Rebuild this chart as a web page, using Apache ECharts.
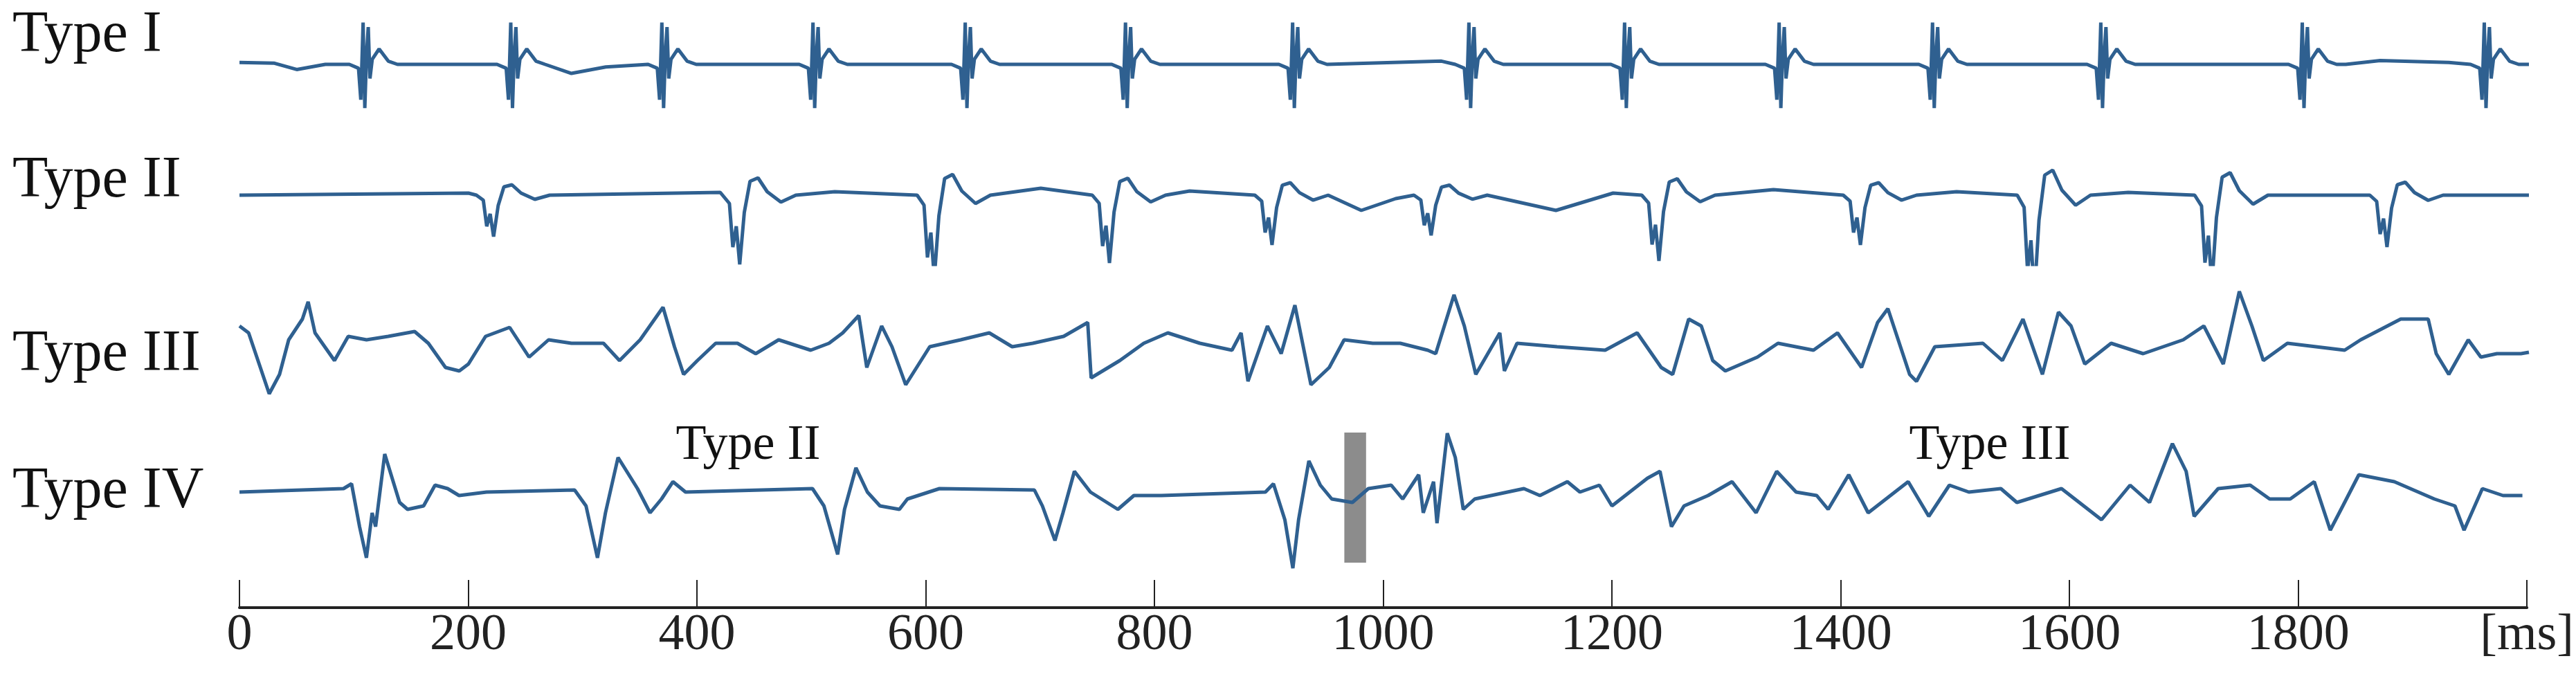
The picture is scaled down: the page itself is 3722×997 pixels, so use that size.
<!DOCTYPE html>
<html>
<head>
<meta charset="utf-8">
<script src="https://cdn.jsdelivr.net/npm/echarts@6/dist/echarts.min.js"></script>
<style>html,body{margin:0;padding:0;background:#fff}#chart{width:3722px;height:997px}</style>
</head>
<body>
<div id="chart"></div>
<script>
// x tick values (ms)
const xTicks = [0, 200, 400, 600, 800, 1000, 1200, 1400, 1600, 1800, 2000];
const rowNames = ['Type I', 'Type II', 'Type III', 'Type IV'];

// Type I: beat onset times and beat shape (offset ms, amplitude)
const beatsI = [108, 237, 369, 501, 634, 774, 920, 1074, 1210, 1345, 1479, 1626, 1802, 1961];
const beatShapeI = [[-12, 0], [-4, -6], [-2, -55], [0, 65], [1.5, -68], [3, 15], [4.5, 58], [6, -22], [8, 8], [14, 24], [22, 5], [30, 0]];
const wanderI = [[0, 3], [30, 2], [50, -8], [75, 0], [260, 0], [290, -14], [320, -4], [370, 0], [700, 0], [1050, 5], [1100, 0], [1840, 0], [1870, 6], [1930, 3], [2000, 0]];

// Type II: dip times, dip depths and dip shape
const beatsII = [213, 428, 598, 751, 893, 1032, 1231, 1407, 1559, 1714, 1867];
const depthII = [60, 100, 120, 98, 72, 58, 95, 72, 145, 130, 75];
const beatShapeII = [[-6, 0], [0, -0.12], [3, -0.75], [6, -0.45], [9, -1], [13, -0.25], [18, 0.2], [25, 0.25], [33, 0.05], [45, -0.1], [58, 0]];
const wanderII = [[0, 0], [200, 3], [420, 4], [520, 5], [640, 8], [700, 10], [830, 6], [980, -22], [1010, -5], [1150, -22], [1200, 3], [1340, 8], [1500, 5], [1650, 4], [2000, 0]];

// Type III: readings (ms, amplitude)
const seriesIII = [[0, 30], [8, 20], [26, -68], [35, -40], [43, 10], [55, 40], [60, 65], [66, 20], [83, -20], [95, 15], [111, 10], [130, 15], [153, 22], [165, 5],
  [180, -30], [192, -35], [200, -25], [215, 15], [236, 28], [253, -15], [270, 10], [290, 5], [318, 5], [332, -20], [350, 10], [370, 57], [380, 0], [388, -40],
  [400, -20], [416, 5], [435, 5], [451, -10], [471, 10], [499, -5], [515, 5], [527, 20], [541, 45], [548, -30], [561, 30], [570, 0], [582, -55], [603, 0],
  [630, 10], [655, 20], [675, 0], [693, 5], [720, 15], [741, 35], [744, -45], [769, -20], [790, 5], [811, 20], [839, 5], [867, -5], [875, 20], [881, -50],
  [898, 30], [910, -10], [922, 60], [936, -55], [952, -30], [965, 10], [990, 5], [1014, 5], [1038, -5], [1045, -10], [1061, 75], [1070, 30], [1080, -40],
  [1101, 20], [1105, -35], [1116, 5], [1151, 0], [1193, -5], [1221, 20], [1242, -30], [1252, -40], [1266, 40], [1277, 30], [1287, -20], [1298, -35],
  [1326, -15], [1344, 5], [1375, -5], [1396, 20], [1417, -30], [1431, 35], [1440, 55], [1459, -40], [1465, -50], [1481, 0], [1523, 5], [1540, -20],
  [1558, 40], [1575, -40], [1589, 50], [1600, 30], [1612, -25], [1635, 5], [1663, -10], [1698, 10], [1716, 30], [1733, -25], [1747, 80], [1758, 30],
  [1768, -20], [1789, 5], [1839, -5], [1853, 10], [1888, 40], [1912, 40], [1919, -10], [1930, -40], [1947, 10], [1958, -15], [1972, -10], [1993, -10], [2000, -8]];

// Type IV: readings (ms, amplitude)
const seriesIV = [[0, 0], [91, 5], [98, 12], [105, -50], [111, -95], [116, -30], [119, -50], [127, 55], [140, -15], [147, -25], [161, -20], [171, 10],
  [182, 5], [192, -5], [216, 0], [293, 3], [303, -20], [313, -95], [320, -30], [331, 50], [348, 5], [359, -30], [369, -10], [379, 15], [390, 0],
  [501, 5], [511, -20], [523, -90], [529, -25], [539, 35], [549, 0], [560, -20], [577, -25], [584, -10], [612, 5], [695, 3], [702, -20], [713, -70],
  [720, -30], [730, 30], [744, 0], [768, -25], [782, -5], [806, -5], [897, 0], [904, 12], [914, -40], [921, -110], [926, -40], [935, 45], [945, 10],
  [955, -10], [973, -15], [987, 5], [1007, 10], [1017, -10], [1031, 25], [1035, -30], [1044, 15], [1047, -45], [1056, 85], [1063, 50], [1070, -25],
  [1080, -10], [1123, 5], [1137, -5], [1161, 15], [1172, 0], [1189, 10], [1200, -20], [1231, 20], [1242, 30], [1252, -50], [1263, -20], [1284, -5],
  [1305, 15], [1326, -30], [1344, 30], [1361, 0], [1379, -5], [1389, -25], [1407, 25], [1424, -30], [1459, 15], [1477, -35], [1495, 10], [1512, 0],
  [1540, 5], [1554, -15], [1593, 5], [1628, -40], [1653, 10], [1670, -15], [1690, 70], [1702, 30], [1709, -35], [1730, 5], [1758, 10], [1775, -10],
  [1793, -10], [1814, 15], [1828, -55], [1839, -20], [1853, 25], [1884, 15], [1919, -10], [1937, -20], [1945, -55], [1961, 5], [1979, -5], [1996, -5]];

// grey separator bar (ms range, amplitude range)
const barMs = [966, 985];
const barAmp = [-102, 86];
const annotations = [{ text: 'Type II', x: 1081 }, { text: 'Type III', x: 2875 }];

function addBeats(wander, beats, shape, scale) {
  let pts = wander.map(p => p.slice());
  beats.forEach((t0, i) => {
    let s = scale ? scale[i] : 1;
    pts = pts.filter(p => p[0] < t0 + shape[0][0] || p[0] > t0 + shape[shape.length - 1][0]);
    shape.forEach(p => pts.push([t0 + p[0], p[1] * s]));
  });
  return pts.sort((a, b) => a[0] - b[0]);
}

const dataI = addBeats(wanderI, beatsI, beatShapeI);
const dataII = addBeats(wanderII, beatsII, beatShapeII, depthII);
const allData = [dataI, dataII, seriesIII, seriesIV];

const baselines = [86, 282, 501, 711];
const labelCentres = [52, 262, 513, 711];
const font = 'Liberation Serif';
const grids = baselines.map((b, i) => i < 3
  ? { left: 346, right: 68, top: b - 100, height: 200 }
  : { left: 346, right: 68, top: b - 100, height: 878 - (b - 100) });

const chart = echarts.init(document.getElementById('chart'), null, { renderer: 'canvas' });
chart.setOption({
  animation: false,
  grid: grids,
  xAxis: grids.map((g, i) => ({
    gridIndex: i, type: 'value', min: 0, max: 2000, interval: 200,
    show: i === 3,
    axisLine: { show: true, onZero: false, lineStyle: { color: '#222', width: 4 } },
    axisTick: { show: true, inside: true, length: 40, lineStyle: { color: '#222', width: 2 } },
    axisLabel: {
      show: true, margin: 4, fontSize: 74, fontFamily: font, color: '#222',
      formatter: v => v === 2000 ? '[ms]' : String(v)
    },
    splitLine: { show: false }
  })),
  yAxis: grids.map((g, i) => ({
    gridIndex: i, type: 'value', show: false,
    min: i < 3 ? -100 : -167, max: 100
  })),
  graphic: rowNames.map((n, i) => ({
    type: 'text', x: 18, y: labelCentres[i],
    style: { text: n, fontSize: 84, fontFamily: font, fill: '#111', verticalAlign: 'middle' }
  })).concat(annotations.map(a => ({
    type: 'text', x: a.x, y: 644,
    style: { text: a.text, fontSize: 72, fontFamily: font, fill: '#111', align: 'center', verticalAlign: 'middle' }
  }))),
  series: allData.map((d, i) => ({
    type: 'line', xAxisIndex: i, yAxisIndex: i, data: d, showSymbol: false,
    lineStyle: { color: '#2f6090', width: 5 },
    markArea: i === 3 ? {
      silent: true, itemStyle: { color: '#8c8c8c' },
      data: [[{ xAxis: barMs[0], yAxis: barAmp[0] }, { xAxis: barMs[1], yAxis: barAmp[1] }]]
    } : undefined
  }))
});
</script>
</body>
</html>
